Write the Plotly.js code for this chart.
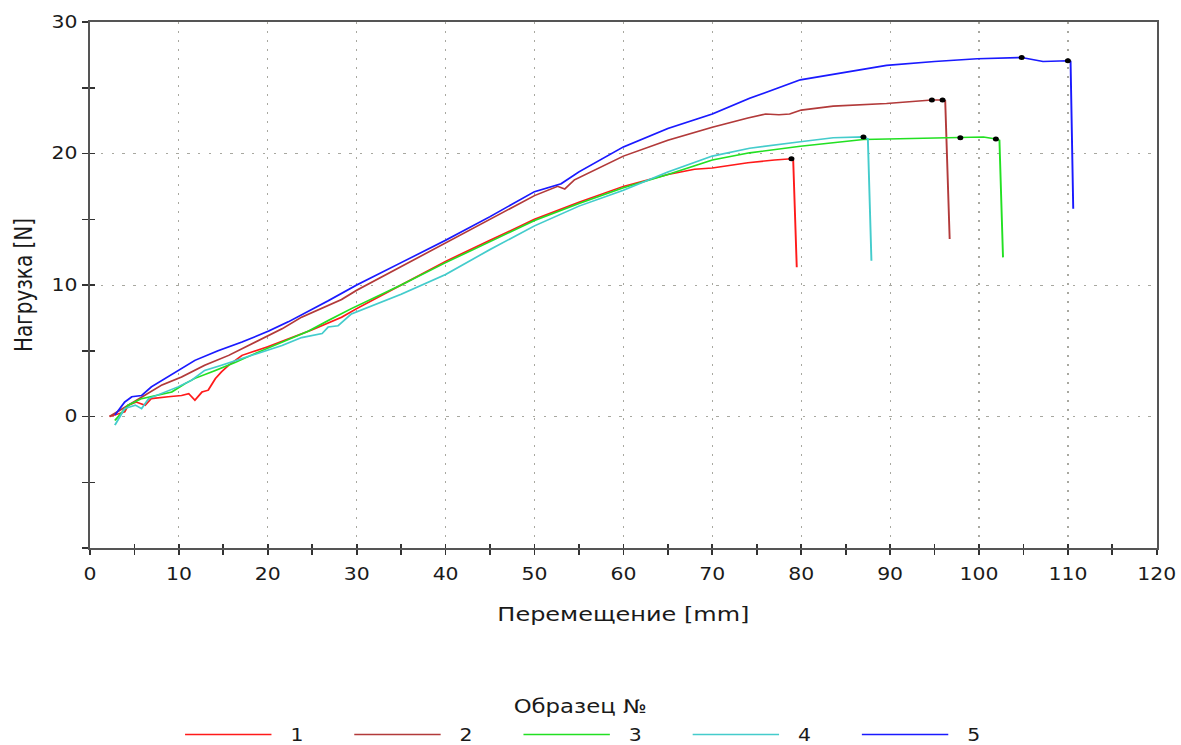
<!DOCTYPE html>
<html>
<head>
<meta charset="utf-8">
<script src="https://cdn.plot.ly/plotly-3.0.1.min.js"></script>
<style>
html,body{margin:0;padding:0;overflow:hidden;background:#fff;}
#chart{width:984px;height:745px;transform:scaleX(1.2);transform-origin:0 0;}
</style>
</head>
<body>
<div id="chart"></div>
<script>
// Sample names
const legendTitle = 'Образец №';
const sampleNames = ['1', '2', '3', '4', '5'];
const sampleColors = ['#ff1a1a', '#b23a3a', '#22e022', '#44cccc', '#1a1aff'];

// Sample 1
const x1 = [2.2, 3.9, 4.3, 5.2, 6.2, 6.9, 8.8, 10.3, 11.1, 11.8, 12.6, 13.3, 14.1, 14.8, 15.6, 16.3, 17.1, 20, 25, 28.3, 30, 35, 40, 45, 50, 55, 60, 65, 68, 70, 74, 77, 78.9, 79.1, 79.5];
const y1 = [0, 0.35, 0.86, 1.1, 0.86, 1.36, 1.5, 1.6, 1.74, 1.24, 1.87, 2.0, 2.88, 3.4, 3.9, 4.27, 4.65, 5.3, 6.6, 7.55, 8.2, 10.0, 11.8, 13.4, 15.0, 16.3, 17.5, 18.4, 18.8, 18.9, 19.3, 19.5, 19.6, 19.5, 11.35];
// Sample 2
const x2 = [2.2, 4.3, 6.2, 8.1, 10.3, 12.9, 15.6, 18.6, 21.6, 23.8, 28.3, 30, 35, 40, 45, 50, 52.6, 53.4, 54.5, 57, 60, 65, 70, 74, 76, 77.5, 78.7, 80, 83.6, 89.6, 94.7, 95.9, 96.2, 96.7];
const y2 = [0, 0.86, 1.6, 2.4, 3.0, 3.9, 4.65, 5.66, 6.67, 7.55, 8.9, 9.6, 11.4, 13.2, 15.0, 16.8, 17.5, 17.3, 18.0, 18.8, 19.8, 21.0, 22.0, 22.7, 23.0, 22.95, 23.0, 23.3, 23.6, 23.8, 24.07, 24.07, 24.0, 13.5];
// Sample 3
const x3 = [2.8, 4.3, 5.8, 7.3, 9.2, 10.7, 11.8, 14.1, 16.3, 18.6, 21.6, 24.6, 26.8, 29.4, 35, 40, 45, 50, 55, 60, 65, 70, 74.2, 79.9, 87, 92, 97.9, 100.5, 101.9, 102.3, 102.7];
const y3 = [-0.3, 0.86, 1.36, 1.6, 1.87, 2.5, 2.9, 3.5, 4.1, 4.8, 5.66, 6.5, 7.3, 8.2, 10.0, 11.7, 13.3, 14.9, 16.2, 17.4, 18.4, 19.5, 20.05, 20.55, 21.06, 21.15, 21.2, 21.25, 21.1, 21.0, 12.1];
// Sample 4
const x4 = [2.8, 3.9, 5.1, 5.8, 6.6, 8.1, 9.9, 11.4, 12.9, 14.8, 17.1, 19.3, 21.6, 23.8, 26.1, 26.8, 27.9, 29.4, 32, 35, 40, 45, 50, 55, 60, 65, 70, 74.2, 79.9, 83.6, 87, 87.5, 87.9];
const y4 = [-0.66, 0.6, 0.86, 0.6, 1.36, 1.74, 2.25, 2.75, 3.5, 3.9, 4.4, 4.9, 5.4, 6.0, 6.3, 6.8, 6.9, 7.8, 8.5, 9.3, 10.8, 12.7, 14.5, 16.0, 17.2, 18.6, 19.8, 20.4, 20.9, 21.2, 21.26, 21.1, 11.85];
// Sample 5
const x5 = [2.8, 3.9, 4.7, 5.8, 6.9, 8.1, 9.9, 11.8, 14.4, 17.1, 20.1, 22.3, 26.8, 30, 35, 40, 45, 50, 53, 55, 60, 65, 70, 74.2, 79.9, 85, 89.6, 95, 99.8, 104.8, 107.2, 110, 110.3, 110.6];
const y5 = [0.1, 1.1, 1.5, 1.6, 2.25, 2.75, 3.5, 4.27, 5.0, 5.66, 6.5, 7.2, 8.8, 10.0, 11.7, 13.4, 15.2, 17.1, 17.7, 18.6, 20.5, 21.9, 23.0, 24.2, 25.6, 26.2, 26.7, 27.0, 27.2, 27.3, 27.0, 27.05, 27.0, 15.8];

// Marked points (black dots)
const dotX = [78.9, 87, 94.7, 95.9, 97.9, 101.9, 104.8, 110];
const dotY = [19.6, 21.26, 24.07, 24.07, 21.2, 21.1, 27.3, 27.05];

// Axis ticks
const xTicks = [0, 10, 20, 30, 40, 50, 60, 70, 80, 90, 100, 110, 120];
const yTicks = [-10, 0, 10, 20, 30];
const yTickText = ['', '0', '10', '20', '30'];

const xs = [x1, x2, x3, x4, x5];
const ys = [y1, y2, y3, y4, y5];
const pad = '\u00a0\u00a0';

const traces = xs.map((xv, i) => ({
  type: 'scatter', mode: 'lines', x: xv, y: ys[i], name: pad + sampleNames[i],
  line: {color: sampleColors[i], width: 1.6}, hoverinfo: 'skip'
}));
traces.push({
  type: 'scatter', mode: 'markers', x: dotX, y: dotY, showlegend: false,
  marker: {color: '#000', size: 5}, hoverinfo: 'skip'
});
traces.push({
  type: 'scatter', mode: 'markers', x: [], y: [], xaxis: 'x2', yaxis: 'y2',
  showlegend: false, hoverinfo: 'skip'
});

const font = 'DejaVu Sans, Verdana, sans-serif';
const axisCommon = {
  showline: true, linecolor: '#555', linewidth: 2, mirror: true,
  zeroline: false, showgrid: true, gridcolor: '#a8a8a0', gridwidth: 1,
  griddash: '2px,7px', ticks: 'outside', ticklen: 5, tickwidth: 1.5, tickcolor: '#333',
  tickfont: {family: font, size: 17, color: '#1a1a1a'}
};

const layout = {
  width: 984, height: 745,
  margin: {l: 75, r: 20, t: 22, b: 197},
  paper_bgcolor: '#fff', plot_bgcolor: '#fff',
  font: {family: font, color: '#1a1a1a'},
  xaxis: Object.assign({}, axisCommon, {
    range: [0, 120], tickvals: xTicks, ticklabelstandoff: 5,
    minor: {dtick: 5, ticks: 'outside', ticklen: 5, tickwidth: 1.5, tickcolor: '#333', showgrid: false},
    title: {text: 'Перемещение [mm]', font: {family: font, size: 20, color: '#1a1a1a'}, standoff: 24}
  }),
  yaxis: Object.assign({}, axisCommon, {
    range: [-10, 30], tickvals: yTicks, ticktext: yTickText,
    minor: {dtick: 5, ticks: 'outside', ticklen: 5, tickwidth: 1.5, tickcolor: '#333', showgrid: false},
    title: {text: 'Нагрузка [N]', font: {family: font, size: 20, color: '#1a1a1a'}, standoff: 10}
  }),
  xaxis2: {
    overlaying: 'x', matches: 'x', anchor: 'y2', range: [0, 120], tickvals: xTicks,
    ticks: 'inside', ticklen: 4, tickwidth: 1.5, tickcolor: '#333', showticklabels: false,
    showgrid: false, zeroline: false, showline: false,
    minor: {dtick: 5, ticks: 'inside', ticklen: 4, tickwidth: 1.5, tickcolor: '#333', showgrid: false}
  },
  yaxis2: {
    overlaying: 'y', matches: 'y', anchor: 'x2', range: [-10, 30], tickvals: yTicks,
    ticks: 'inside', ticklen: 4, tickwidth: 1.5, tickcolor: '#333', showticklabels: false,
    showgrid: false, zeroline: false, showline: false,
    minor: {dtick: 5, ticks: 'inside', ticklen: 4, tickwidth: 1.5, tickcolor: '#333', showgrid: false}
  },
  legend: {
    orientation: 'h', xref: 'paper', x: 0.48, xanchor: 'center',
    yref: 'container', y: 0.0134, yanchor: 'middle',
    itemwidth: 72, entrywidth: 54, entrywidthmode: 'pixels',
    font: {family: font, size: 17, color: '#1a1a1a'},
    bgcolor: 'rgba(0,0,0,0)'
  },
  annotations: [{
    text: legendTitle, xref: 'paper', yref: 'paper', x: 0.459, y: -0.301,
    xanchor: 'center', yanchor: 'middle', showarrow: false,
    font: {family: font, size: 19, color: '#1a1a1a'}
  }],
  showlegend: true
};

Plotly.newPlot('chart', traces, layout, {displayModeBar: false, staticPlot: true});
</script>
</body>
</html>
